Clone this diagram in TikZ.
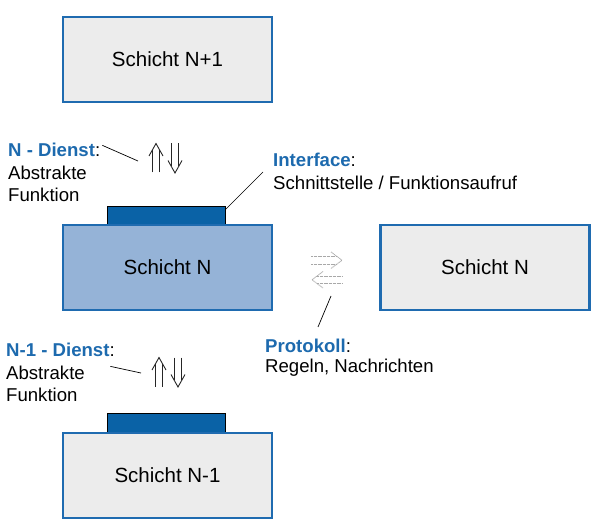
\documentclass[tikz,border=0pt]{standalone}
\usepackage{fontspec}
\setmainfont{Liberation Sans}
\definecolor{bordblue}{HTML}{1F6BB0}
\definecolor{labblue}{HTML}{1D6AAE}
\definecolor{tabblue}{HTML}{0A62A6}
\definecolor{boxgray}{HTML}{ECECEC}
\definecolor{boxlblue}{HTML}{95B3D7}
\definecolor{arrgray}{HTML}{A8A8A8}
\tikzset{
  layer/.style={draw=bordblue, line width=2.4pt, fill=boxgray, minimum width=209pt, minimum height=85pt, inner sep=0pt, font=\fontsize{20.5}{24}\selectfont},
  tabbox/.style={draw=black, line width=0.9pt, fill=tabblue, minimum width=118pt, minimum height=19pt, inner sep=0pt},
  lbl/.style={anchor=base west, inner sep=0pt, font=\fontsize{18.6}{22}\selectfont},
  pointer/.style={draw=black, line width=0.7pt},
  dblarr/.style={draw=black!85, line width=0.9pt},
  protarr/.style={draw=arrgray, line width=0.9pt, dash pattern=on 0.7pt off 0.6pt},
}
\newcommand{\blab}[1]{\textcolor{labblue}{\textbf{#1}}}
\begin{document}
\begin{tikzpicture}[x=1pt,y=-1pt]
\useasboundingbox (0,0) rectangle (603,532);
% layers
\node[layer] (top) at (167.5,59.5) {Schicht N+1};
\node[tabbox] (tabN) at (166,215.5) {};
\node[layer, fill=boxlblue] (midL) at (167.5,267.5) {Schicht N};
\node[layer] (midR) at (485,267.5) {Schicht N};
\node[tabbox] (tabN1) at (166,423) {};
\node[layer] (bot) at (167.5,475.5) {Schicht N-1};
% labels
\node[lbl] (nd1) at (8,157) {\blab{N - Dienst}:};
\node[lbl] (nd2) at (8,180) {Abstrakte};
\node[lbl] (nd3) at (8,201.5) {Funktion};
\node[lbl] (n1d1) at (6,356) {\blab{N-1 - Dienst}:};
\node[lbl] (n1d2) at (6,379) {Abstrakte};
\node[lbl] (n1d3) at (6,401) {Funktion};
\node[lbl] (if1) at (273,167) {\blab{Interface}:};
\node[lbl] (if2) at (273,190) {Schnittstelle / Funktionsaufruf};
\node[lbl] (pr1) at (265,352) {\blab{Protokoll}:};
\node[lbl] (pr2) at (265,372) {Regeln, Nachrichten};
% pointer lines
\coordinate (pN) at (138,161);
\coordinate (pN1) at (141,373);
\coordinate (pIf) at (263,172);
\coordinate (pPr) at (331,296);
\draw[pointer] (nd1.east) ++(2,-5) -- (pN);
\draw[pointer] (n1d1.south) ++(50,10) -- (pN1);
\draw[pointer] (tabN.north east) ++(0,4) -- (pIf);
\draw[pointer] (pPr) -- (318,327) coordinate (pPrEnd);
% double arrows upper
\draw[dblarr] (152.5,172.5) -- (152.5,150) (159.5,172.5) -- (159.5,150);
\draw[dblarr] (149,156) -- (156,143.5) -- (163,156);
\draw[dblarr] (171.5,143.5) -- (171.5,166) (178.5,143.5) -- (178.5,166);
\draw[dblarr] (168,160.5) -- (175,173) -- (182,160.5);
% double arrows lower
\begin{scope}[shift={(3,214)}]
\draw[dblarr] (152.5,172.5) -- (152.5,150) (159.5,172.5) -- (159.5,150);
\draw[dblarr] (149,156) -- (156,143.5) -- (163,156);
\draw[dblarr] (171.5,143.5) -- (171.5,166) (178.5,143.5) -- (178.5,166);
\draw[dblarr] (168,160.5) -- (175,173) -- (182,160.5);
\end{scope}
% protocol arrows
\draw[protarr] (311,256.5) -- (337,256.5) (311,264) -- (337,264);
\draw[protarr] (331,252) -- (342,260.25) -- (331,268.5);
\draw[protarr] (317,276) -- (342,276) (317,283.5) -- (342,283.5);
\draw[protarr] (323,271.5) -- (312,279.75) -- (323,288);
\end{tikzpicture}
\end{document}
